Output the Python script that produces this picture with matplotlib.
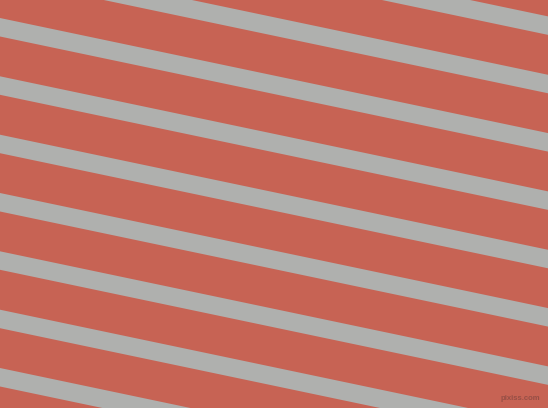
import numpy as np
import matplotlib.pyplot as plt

stripe_tops = [-98.7, -40.3, 18.0, 76.3, 134.7, 193.0, 251.3, 309.7, 368.0]  # top edge at x=0
stripe_height = 18.5
stripe_slope = 0.21   # drop per pixel to the right

width, height = 548, 408
bg_color = "#C76354"
stripe_color = "#AFB0AE"

fig = plt.figure(figsize=(width / 100, height / 100), dpi=100)
ax = fig.add_axes([0, 0, 1, 1])
ax.set_facecolor(bg_color)
fig.patch.set_facecolor(bg_color)

x = np.array([0, width])
for top in stripe_tops:
    y1 = top + stripe_slope * x
    ax.fill_between(x, y1, y1 + stripe_height, color=stripe_color, linewidth=0)

# small watermark in the bottom right corner
ax.text(540, 398, "pixiss.com", ha="right", va="center", fontsize=5.6,
        family="Liberation Sans", color="#8a4a42", alpha=0.8, fontweight="bold")

ax.set_xlim(0, width)
ax.set_ylim(height, 0)
ax.axis("off")

fig.savefig("out.png", dpi=100, facecolor=bg_color)
